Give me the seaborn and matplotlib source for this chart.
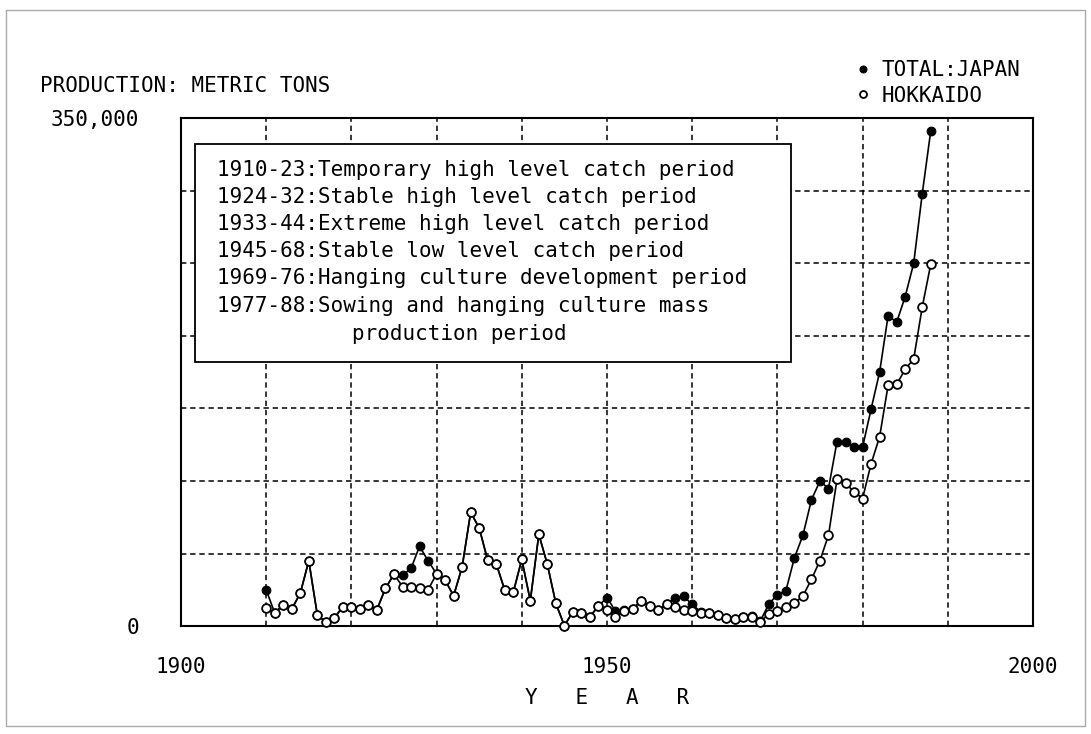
import matplotlib
matplotlib.use("Agg")
import matplotlib.pyplot as plt
import matplotlib.patches as patches
import seaborn as sns
import pandas as pd

sns.set_style("white")
plt.rcParams['font.family'] = ['DejaVu Sans Mono', 'DejaVu Sans']
plt.rcParams['text.color'] = 'black'
plt.rcParams['axes.labelcolor'] = 'black'
plt.rcParams['xtick.color'] = 'black'
plt.rcParams['ytick.color'] = 'black'

# 年 (1910-1988)
years = list(range(1910, 1989))

# 生産量: 千トン
hokkaido = [
    12.5, 9.1, 14.6, 11.8, 22.6, 45.0, 7.7, 2.7, 5.5, 13.5,
    13.5, 11.8, 14.2, 11.4, 26.0, 35.8, 27.2, 26.7, 26.0, 25.0,
    36.0, 31.6, 20.9, 40.8, 78.4, 67.7, 45.3, 43.0, 24.8, 23.2,
    46.0, 17.5, 63.2, 42.6, 15.6, 0.3, 9.9, 8.8, 6.6, 13.8,
    10.8, 6.2, 10.3, 12.1, 17.1, 13.7, 11.0, 14.9, 13.2, 11.0,
    10.3, 9.1, 8.7, 7.5, 5.3, 4.6, 6.4, 6.4, 3.0, 8.5,
    10.5, 13.0, 15.8, 20.8, 32.2, 45.2, 62.6, 101.1, 98.4, 92.5,
    87.9, 111.9, 130.4, 166.0, 166.5, 177.0, 184.0, 219.7, 249.3,
]
total_japan = [
    24.9, 9.1, 14.6, 11.8, 22.6, 45.0, 7.7, 2.7, 5.5, 13.5,
    13.5, 11.8, 14.2, 11.4, 26.0, 35.8, 35.1, 39.7, 55.0, 45.0,
    36.0, 31.6, 20.9, 40.8, 78.4, 67.7, 45.3, 43.0, 24.8, 23.2,
    46.0, 17.5, 63.2, 42.6, 15.6, 0.3, 9.9, 8.8, 6.6, 13.8,
    19.7, 10.3, 10.8, 12.1, 17.1, 13.7, 11.0, 14.9, 19.4, 20.5,
    14.9, 9.8, 8.7, 7.5, 5.3, 4.6, 6.4, 6.8, 3.5, 15.3,
    21.6, 24.4, 47.0, 62.6, 87.0, 100.0, 94.8, 127.1, 127.1, 123.7,
    123.3, 149.5, 175.0, 214.0, 209.4, 227.0, 250.0, 297.7, 341.1,
]

periods = [
    "1910-23:Temporary high level catch period",
    "1924-32:Stable high level catch period",
    "1933-44:Extreme high level catch period",
    "1945-68:Stable low level catch period",
    "1969-76:Hanging culture development period",
    "1977-88:Sowing and hanging culture mass",
    "production period",
]

x_ticks = list(range(1900, 2001, 10))
x_labels = ["1900", "", "", "", "", "1950", "", "", "", "", "2000"]
y_ticks = list(range(0, 351, 50))
y_labels = ["0", "", "", "", "", "", "", "350,000"]

df = pd.DataFrame({"year": years, "total": total_japan, "hokkaido": hokkaido})

fig = plt.figure(figsize=(10.91, 7.34), dpi=100)
ax = fig.add_axes([0.1659, 0.147, 0.7809, 0.692])

# 全国 (黒丸)
sns.lineplot(data=df, x="year", y="total", ax=ax, color="black", lw=1.2,
             marker="o", markersize=6.3, markerfacecolor="black",
             markeredgecolor="black", clip_on=False, zorder=4,
             label="TOTAL:JAPAN")
# 北海道 (白丸)
sns.lineplot(data=df, x="year", y="hokkaido", ax=ax, color="black", lw=1.2,
             marker="o", markersize=6.3, markerfacecolor="white",
             markeredgecolor="black", markeredgewidth=1.3, clip_on=False,
             zorder=5, label="HOKKAIDO")

ax.set_xlim(1900, 2000)
ax.set_ylim(0, 350)
ax.set_xticks(x_ticks)
ax.set_xticklabels(x_labels, fontsize=15)
ax.set_yticks(y_ticks)
ax.set_yticklabels(y_labels, fontsize=15)
ax.tick_params(axis="x", length=0, pad=22)
ax.tick_params(axis="y", length=0, pad=30)
ax.grid(True, color="black", ls=(0, (3.5, 2.5)), lw=1.1)
for s in ax.spines.values():
    s.set_color("black")
    s.set_linewidth(1.5)

ax.set_xlabel("Y   E   A   R", fontsize=15, labelpad=8)
ax.set_ylabel("")

# 期間説明の枠
box = patches.Rectangle((0.0164, 0.52), 0.70, 0.429, transform=ax.transAxes,
                        facecolor="white", edgecolor="black", lw=1.3, zorder=6)
ax.add_patch(box)
line_y = [0.898, 0.844, 0.791, 0.738, 0.685, 0.630, 0.575]
for i, txt in enumerate(periods):
    x0 = 0.2007 if i == len(periods) - 1 else 0.0423
    ax.text(x0, line_y[i], txt, transform=ax.transAxes, fontsize=15,
            va="center", ha="left", zorder=7)

fig.text(40 / 1091, 1 - 86 / 734, "PRODUCTION: METRIC TONS", fontsize=15,
         va="center", ha="left")

ax.get_legend().remove()
handles, labels = ax.get_legend_handles_labels()
leg = fig.legend(handles, labels, loc="upper left",
                 bbox_to_anchor=(848 / 1091, 1 - 52 / 734), frameon=False,
                 fontsize=15, handlelength=0.6, handletextpad=0.6,
                 labelspacing=0.25, borderaxespad=0)
for h in leg.legend_handles:
    h.set_linestyle("none")
    h.set_markersize(5)

# 外枠
fig.patches.append(patches.Rectangle((6 / 1091, 8 / 734), 1079 / 1091, 716 / 734,
                                     transform=fig.transFigure, fill=False,
                                     edgecolor="#aaaaaa", lw=1.0))

fig.savefig("out.png", dpi=100, facecolor="white")
